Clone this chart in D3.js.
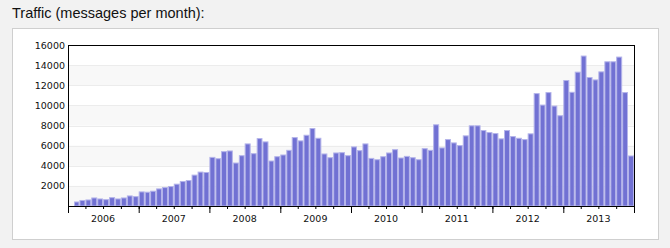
<!DOCTYPE html>
<html>
<head>
<meta charset="utf-8">
<script src="https://cdn.jsdelivr.net/npm/d3@7"></script>
<style>
  body { margin: 0; background: #f2f2f2; }
  .title { position: absolute; left: 12px; top: 5px; font: 14.5px "Liberation Sans", Arial, sans-serif; color: #111; }
  #traffic { position: absolute; left: 12px; top: 28px; width: 645px; height: 210px; background: #fff; border: 1px solid #cfcfcf; }
  svg text { font-family: "DejaVu Sans", Verdana, sans-serif; font-size: 9.5px; fill: #111; }
</style>
</head>
<body>
<div class="title">Traffic (messages per month):</div>
<div id="traffic"></div>
<script>

// first month with a bar, then messages per month
var firstMonth = "2006-02";
var counts = [
    400, 550, 600, 800, 700, 630, 830, 700, 800, 1000, 930,
    1400, 1370, 1470, 1700, 1830, 1930, 2170, 2430, 2530, 3070, 3370, 3330,
    4830, 4700, 5400, 5470, 4270, 5000, 6170, 5200, 6700, 6370, 4470, 4900,
    5070, 5530, 6800, 6470, 7030, 7700, 6730, 5170, 4800, 5270, 5300, 5000,
    5870, 5500, 6170, 4730, 4600, 4900, 5270, 5600, 4770, 4930, 4800, 4600,
    5700, 5530, 8070, 5770, 6600, 6270, 6000, 6970, 7970, 7970, 7500, 7300,
    7200, 6670, 7500, 6900, 6730, 6600, 7170, 11170, 10030, 11270, 9930, 8970,
    12470, 11300, 13300, 14900, 12770, 12530, 13330, 14330, 14330, 14800, 11270, 4970
];
var yTicks = [2000, 4000, 6000, 8000, 10000, 12000, 14000, 16000];
var years = ["2006", "2007", "2008", "2009", "2010", "2011", "2012", "2013"];

function getData(){
    var start = d3.timeParse("%Y-%m")(firstMonth);
    return counts.map(function(c, i){
        return { 'month': d3.timeMonth.offset(start, i), 'total': c };
    });
}

function drawTraffic(containerId, data){

    var left = 55, top = 16, right = 621, bottom = 177;

    var svg = d3.select('#' + containerId).append("svg")
        .attr("width", 645)
        .attr("height", 210);

    var x = d3.scaleTime()
        .domain([new Date(2006, 0, 1), new Date(2014, 0, 1)])
        .range([left, right]);

    var y = d3.scaleLinear()
        .domain([0, 16000])
        .range([bottom, top]);

    // alternating light bands
    svg.selectAll("rect.band")
        .data(yTicks.filter(function(t){ return (t / 2000) % 2 == 1; }))
        .enter().append("rect")
        .attr("class", "band")
        .attr("x", left)
        .attr("width", right - left)
        .attr("y", function(d){ return y(d) ; })
        .attr("height", function(d){ return y(d - 2000) - y(d); })
        .style("fill", "#f8f8f8");

    svg.selectAll("line.grid")
        .data(yTicks)
        .enter().append("line")
        .attr("class", "grid")
        .attr("x1", left)
        .attr("x2", right)
        .attr("y1", function(d){ return Math.round(y(d)) + 0.5; })
        .attr("y2", function(d){ return Math.round(y(d)) + 0.5; })
        .style("stroke", "#ececec");

    svg.append("g")
        .selectAll("rect")
        .data(data)
        .join("rect")
        .attr("x", function(d){ return x(d.month) + 0.5; })
        .attr("width", function(d){ return x(d3.timeMonth.offset(d.month, 1)) - x(d.month) - 1; })
        .attr("y", function(d){ return y(d.total); })
        .attr("height", function(d){ return bottom - y(d.total); })
        .attr("fill", "#7171d3")
        .attr("stroke", "#b4b4ea")
        .attr("stroke-width", 1);

    // frame
    svg.append("rect")
        .attr("x", left + 0.5)
        .attr("y", top + 0.5)
        .attr("width", right - left)
        .attr("height", bottom - top)
        .attr("fill", "none")
        .attr("stroke", "#000");

    var yAxis = d3.axisLeft(y).tickValues(yTicks).tickSize(0).tickPadding(3).tickFormat(d3.format("d"));
    svg.append("g")
        .attr("transform", "translate(" + left + ",0)")
        .call(yAxis)
        .call(function(g){ g.select(".domain").remove(); })
        .selectAll("text").style("font-size", "9.5px").style("font-family", null);

    var quarters = d3.timeMonth.every(3).range(new Date(2006, 0, 1), new Date(2014, 0, 1));
    svg.append("g")
        .attr("transform", "translate(0," + bottom + ")")
        .call(d3.axisBottom(x).tickValues(quarters).tickSize(3).tickFormat(""))
        .call(function(g){ g.select(".domain").remove(); })
        .selectAll("line").attr("stroke", "#000");

    svg.append("g")
        .attr("transform", "translate(0," + bottom + ")")
        .call(d3.axisBottom(x).ticks(d3.timeYear.every(1)).tickSize(7).tickFormat(""))
        .call(function(g){ g.select(".domain").remove(); });

    svg.selectAll("text.year")
        .data(years)
        .enter().append("text")
        .attr("class", "year")
        .attr("x", function(d){ return x(new Date(+d, 6, 1)); })
        .attr("y", bottom + 16)
        .attr("text-anchor", "middle")
        .text(function(d){ return d; });
}

drawTraffic('traffic', getData());

</script>
</body>
</html>
